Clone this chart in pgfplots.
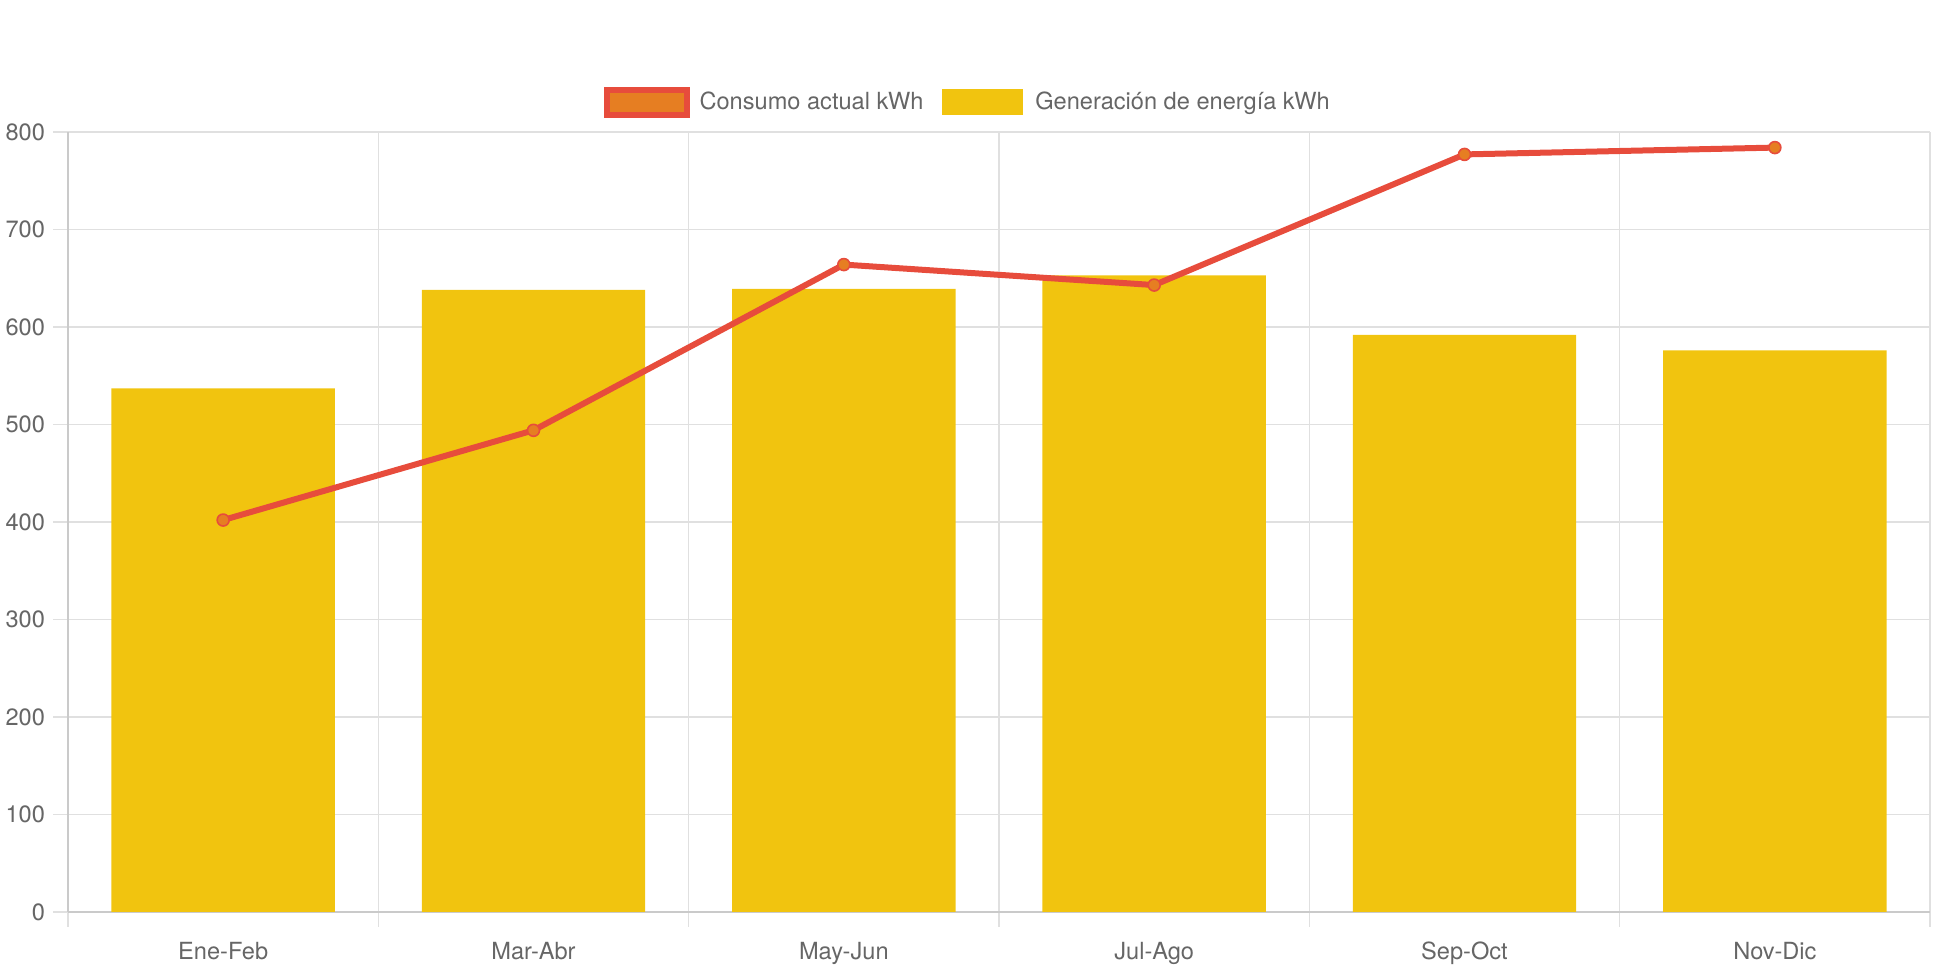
\documentclass[border=0pt]{standalone}
\usepackage{pgfplots}
\pgfplotsset{compat=1.18}
\usepackage{fontspec}
\setmainfont{TeX Gyre Heros}
\definecolor{barc}{HTML}{F1C40F}
\definecolor{linec}{HTML}{E74C3C}
\definecolor{markc}{HTML}{E67E22}
\definecolor{txt}{HTML}{666666}
\definecolor{gridc}{HTML}{E0E0E0}
\definecolor{axc}{HTML}{CACACA}
\begin{document}
\begin{tikzpicture}[font=\fontsize{11.8pt}{14pt}\selectfont]
\begin{axis}[
  scale only axis, width=931pt, height=390pt,
  xmin=-0.5, xmax=5.5, ymin=0, ymax=800,
  axis x line*=bottom, axis y line*=left,
  axis line style={-, axc, line width=0.7pt},
  xtick={0,...,5},
  xticklabels={Ene-Feb,Mar-Abr,May-Jun,Jul-Ago,Sep-Oct,Nov-Dic},
  minor xtick={-0.5,0.5,...,5.5},
  ytick={0,100,...,800},
  ymajorgrids, xminorgrids,
  major grid style={gridc, line width=0.7pt},
  minor grid style={gridc, line width=0.7pt},
  tick align=outside,
  major tick length=7.5pt, minor tick length=7.5pt,
  tick style={gridc, line width=0.7pt},
  major x tick style={draw=none},
  tick label style={text=txt},
  xticklabel style={yshift=-4pt},
  yticklabel style={xshift=-0.5pt},
  /pgf/number format/assume math mode=true,
  legend style={at={(0.5,1)}, anchor=south, xshift=-15pt, yshift=5pt,
    draw=none, fill=none, text=txt, legend columns=-1,
    /tikz/every even column/.append style={column sep=7.5pt}},
]
\addlegendimage{legend image code/.code={\draw[fill=markc, draw=linec, line width=3pt] (0pt,-6.2pt) rectangle (40pt,6.2pt); \path (44pt,0pt);}}
\addlegendentry{Consumo actual kWh}
\addlegendimage{legend image code/.code={\fill[barc] (0pt,-6.2pt) rectangle (40pt,6.2pt); \path (44pt,0pt);}}
\addlegendentry{Generación de energía kWh}
\addplot[ybar, bar width=0.72, fill=barc, draw=none, forget plot]
  coordinates {(0,537) (1,638) (2,639) (3,653) (4,592) (5,576)};
\addplot[linec, line width=3pt, line join=round, mark=*, mark size=3pt,
  mark options={fill=markc, draw=linec, line width=0.8pt}, forget plot]
  coordinates {(0,402) (1,494) (2,664) (3,643) (4,777) (5,784)};
\end{axis}
\pgfresetboundingbox
\path (current axis.south west) ++(-34pt,-28.5pt) coordinate (bl);
\path (current axis.north east) ++(6pt,66pt) coordinate (tr);
\useasboundingbox (bl) rectangle (tr);
\end{tikzpicture}
\end{document}
